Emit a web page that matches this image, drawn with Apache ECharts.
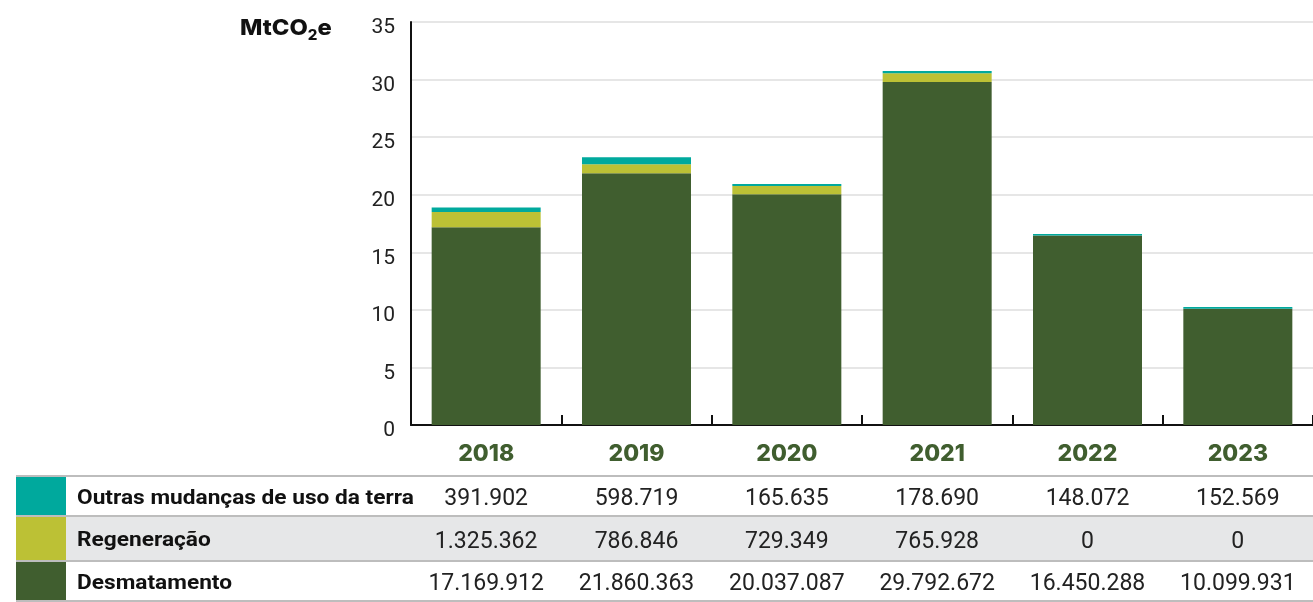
<!DOCTYPE html>
<html>
<head>
<meta charset="utf-8">
<script src="https://cdn.jsdelivr.net/npm/echarts@6/dist/echarts.min.js"></script>
<style>
  html, body { margin: 0; padding: 0; background: #fff; }
  #chart { width: 1313px; height: 602px; }
</style>
</head>
<body>
<div id="chart"></div>
<script>
// anos
var years = ['2018', '2019', '2020', '2021', '2022', '2023'];
// tCO2e por categoria
var desmatamento = [17169912, 21860363, 20037087, 29792672, 16450288, 10099931];
var regeneracao = [1325362, 786846, 729349, 765928, 0, 0];
var outras = [391902, 598719, 165635, 178690, 148072, 152569];
var rowNames = ['Outras mudanças de uso da terra', 'Regeneração', 'Desmatamento'];

var C_DESM = '#405e2f';
var C_REGE = '#bcc135';
var C_OUTR = '#00a99d';

function fmt(n) {
  return String(n).replace(/\B(?=(\d{3})+(?!\d))/g, '.');
}
function toMt(arr) {
  return arr.map(function (v) { return v / 1e6; });
}

var myChart = echarts.init(document.getElementById('chart'));

var valueAxis = function (arr, offset) {
  return {
    type: 'category',
    position: 'bottom',
    offset: offset,
    data: arr.map(fmt),
    axisLine: { show: false },
    axisTick: { show: false },
    axisLabel: {
      interval: 0,
      margin: 0,
      verticalAlign: 'middle',
      color: '#222',
      fontFamily: 'Roboto',
      fontSize: 23
    }
  };
};

var lines = [476, 516, 561, 601].map(function (y) {
  return {
    type: 'line', z: 10,
    shape: { x1: 16, y1: y, x2: 1313, y2: y },
    style: { stroke: '#bdbdbd', lineWidth: 2 }
  };
});

var rows = [
  { y: 477, h: 39, color: C_OUTR, name: rowNames[0] },
  { y: 517, h: 43, color: C_REGE, name: rowNames[1] },
  { y: 562, h: 39, color: C_DESM, name: rowNames[2] }
];
var rowGraphics = [];
//fundo cinza da linha 2
rowGraphics.push({
  type: 'rect', z: -1,
  shape: { x: 16, y: 517, width: 1297, height: 43 },
  style: { fill: '#e6e7e8' }
});
rows.forEach(function (r) {
  rowGraphics.push({
    type: 'rect', z: 5,
    shape: { x: 16, y: r.y, width: 50, height: r.h },
    style: { fill: r.color }
  });
  rowGraphics.push({
    type: 'text', z: 5,
    x: 77, y: r.y + r.h / 2 + 2,
    scaleX: 1.08,
    style: {
      text: r.name,
      fill: '#111',
      fontFamily: 'Roboto',
      fontWeight: 'bold',
      fontSize: 21,
      verticalAlign: 'middle'
    }
  });
});

var option = {
  animation: false,
  grid: {
    left: 411,
    right: 0,
    top: 22,
    bottom: 177,
    containLabel: false,
    outerBoundsMode: 'none'
  },
  xAxis: [
    {
      type: 'category',
      data: years,
      axisLine: { show: true, lineStyle: { color: '#111', width: 2 } },
      axisTick: { show: true, inside: true, length: 10, lineStyle: { color: '#111', width: 2 } },
      axisLabel: {
        margin: 18,
        color: C_DESM,
        fontFamily: 'Inter',
        fontWeight: 800,
        fontSize: 23
      }
    },
    valueAxis(outras, 74),
    valueAxis(regeneracao, 117),
    valueAxis(desmatamento, 159)
  ],
  yAxis: {
    type: 'value',
    min: 0,
    max: 35,
    interval: 5,
    axisLine: { show: true, lineStyle: { color: '#111', width: 2 } },
    axisTick: { show: false },
    splitLine: { lineStyle: { color: '#e6e6e6', width: 2 } },
    axisLabel: {
      margin: 16,
      verticalAlign: 'top',
      lineHeight: 12,
      color: '#222',
      fontFamily: 'Roboto',
      fontSize: 21
    }
  },
  series: [
    {
      name: 'Desmatamento', type: 'bar', stack: 'total', barWidth: 109,
      itemStyle: { color: C_DESM },
      data: toMt(desmatamento)
    },
    {
      name: 'Regeneração', type: 'bar', stack: 'total', barWidth: 109,
      itemStyle: { color: C_REGE },
      data: toMt(regeneracao)
    },
    {
      name: 'Outras mudanças de uso da terra', type: 'bar', stack: 'total', barWidth: 109,
      itemStyle: { color: C_OUTR },
      data: toMt(outras)
    }
  ],
  graphic: [
    {
      type: 'text',
      x: 240, y: 28,
      scaleX: 1.08,
      style: {
        text: '{a|MtCO}{s|2}{a|e}',
        verticalAlign: 'middle',
        rich: {
          a: { fontFamily: 'Inter', fontWeight: 800, fontSize: 22, lineHeight: 30, fill: '#111' },
          s: { fontFamily: 'Inter', fontWeight: 800, fontSize: 14, lineHeight: 16, verticalAlign: 'bottom', fill: '#111' }
        }
      }
    }
  ].concat(rowGraphics).concat(lines)
};

myChart.setOption(option);
window.addEventListener('resize', function () { myChart.resize(); });
</script>
</body>
</html>
